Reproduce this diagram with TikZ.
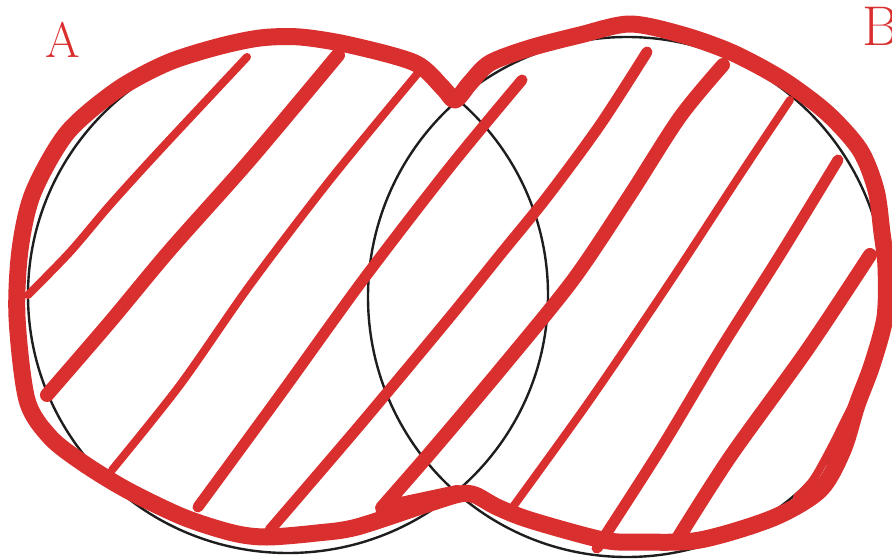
\documentclass[tikz,border=0pt]{standalone}
\usepackage{xcolor}
\definecolor{redink}{HTML}{DA2F2F}
\definecolor{ink}{HTML}{1E1E1E}

\begin{document}
\begin{tikzpicture}[x=1pt,y=-1pt,
      setline/.style={draw=ink,line width=2.4pt},
      outline/.style={draw=redink,line width=17pt,line cap=round,line join=round},
      hatch/.style={draw=redink,line width=11pt,line cap=round,line join=round},
      hatchthin/.style={hatch,line width=8pt},
      hatchthick/.style={hatch,line width=14pt},
      setlabel/.style={text=redink,inner sep=0pt,anchor=base west}]
    \useasboundingbox (0,0) rectangle (892,559);
    % the two sets
    \draw[setline] (288,295) ellipse [x radius=260, y radius=258];
    \draw[setline] (627,297) ellipse [x radius=259, y radius=260];
    \node[setlabel,font=\fontsize{50}{50}\selectfont] (labA) at (45,58) {A};
    \node[setlabel,font=\fontsize{56}{56}\selectfont] (labB) at (862,46) {B};
    % hatching of A u B
    \draw[hatchthin] plot[smooth] coordinates {(28,295) (70,252) (110,205) (160,150) (247,57)};
    \draw[hatchthick] plot[smooth] coordinates {(47,395) (110,322) (170,250) (250,160) (338,55)};
    \draw[hatchthin] plot[smooth] coordinates {(112,470) (180,385) (250,285) (330,180) (418,73)};
    \draw[hatch] plot[smooth] coordinates {(198,507) (280,395) (363,280) (450,167) (522,80)};
    \draw[hatch] plot[smooth] coordinates {(270,530) (360,425) (450,317) (500,255) (547,197) (600,125) (647,52)};
    \draw[hatchthick] (457,492) -- plot[smooth] coordinates {(382,508) (430,453) (500,370) (573,280) (630,195) (680,117) (723,65)};
    \draw[hatchthin] plot[smooth] coordinates {(507,515) (590,400) (670,282) (740,175) (790,100)};
    \draw[hatch] plot[smooth] coordinates {(597,548) (660,450) (720,350) (780,255) (838,160)};
    \draw[hatchthick] plot[smooth] coordinates {(677,540) (730,457) (807,350) (870,255)};
    \draw[hatchthin] plot[smooth] coordinates {(867,377) (850,410) (830,450) (813,480) (797,497)};
    % outline of the union
    \draw[outline] plot[smooth cycle] coordinates {
      (455,100) (470,83) (490,63) (530,48) (580,35) (630,24) (683,35) (733,53)
      (783,80) (827,113) (860,150) (876,190) (882,233) (886,267) (885,317)
      (872,365) (857,405) (843,450) (820,490) (773,518) (700,540) (640,542)
      (603,540) (530,520) (497,507) (475,495) (460,494) (430,503) (357,527)
      (317,533) (267,537) (233,533) (183,517) (127,490) (83,463) (50,437)
      (27,400) (17,317) (20,250) (33,193) (67,133) (117,90) (167,63) (217,47)
      (260,38) (300,37) (350,45) (415,63) (443,88)};
\end{tikzpicture}
\end{document}
